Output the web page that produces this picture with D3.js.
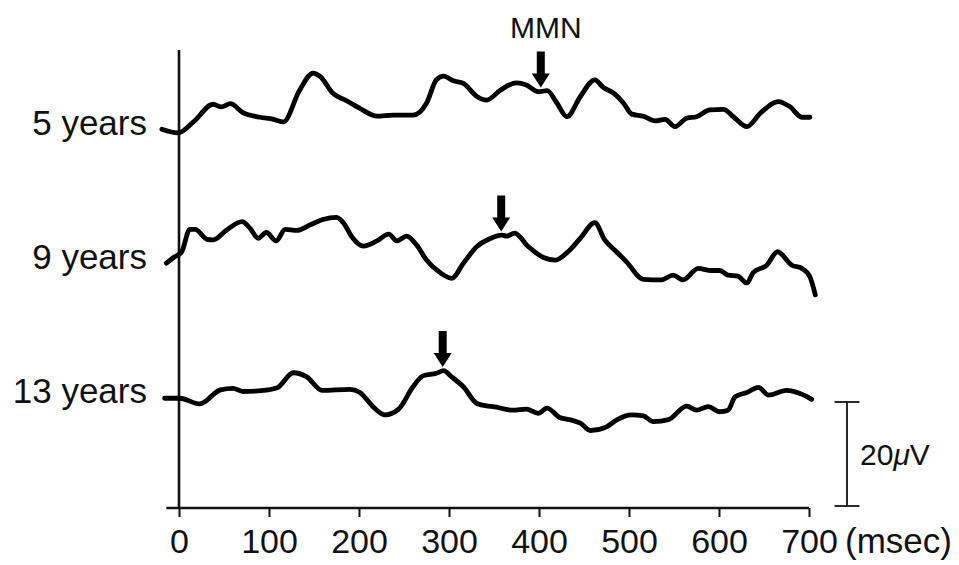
<!DOCTYPE html>
<html>
<head>
<meta charset="utf-8">
<script src="https://cdn.jsdelivr.net/npm/d3@7"></script>
<style>
  html, body { margin: 0; padding: 0; background: #fff; }
  svg { display: block; }
  text { font-family: "Liberation Sans", Arial, sans-serif; fill: #111; }
</style>
</head>
<body>
<svg id="chart" width="959" height="565"></svg>
<script>
// Grand-average difference waveforms (time in ms, amplitude in µV) per age group
const groups = ["5 years", "9 years", "13 years"];

const erp5 = [[-19,-1.0],[-1,-1.7],[16,0.4],[38,3.8],[47,3.3],[57,3.9],[71,2.2],[90,1.3],[105,0.9],[116,0.4],
  [134,6.5],[149,9.8],[157,9.1],[171,5.9],[186,4.5],[201,3.0],[220,1.5],[238,1.7],[260,1.7],[275,4.0],
  [286,8.5],[294,9.2],[305,8.3],[316,7.8],[331,5.3],[342,4.6],[357,6.5],[375,7.9],[386,7.5],[399,6.2],
  [409,6.4],[420,4.0],[431,1.4],[446,5.3],[462,8.5],[471,7.1],[484,5.8],[494,4.0],[503,1.9],[516,1.5],
  [529,0.6],[540,0.9],[551,-0.5],[564,1.1],[575,1.4],[590,2.7],[605,2.8],[616,1.4],[631,-0.5],[646,2.1],
  [666,4.3],[679,3.3],[692,1.3],[701,1.3]];

const erp9 = [[-14,-1.0],[-6,0.1],[3,1.2],[12,5.5],[18,5.5],[31,3.6],[38,3.5],[53,5.4],[70,7.0],[79,5.7],
  [88,3.8],[97,4.9],[108,3.3],[118,5.5],[131,5.3],[146,6.4],[160,7.4],[175,7.8],[183,6.7],[192,4.1],
  [205,2.3],[220,3.3],[233,4.6],[242,3.3],[253,4.2],[264,2.5],[275,-0.4],[290,-2.8],[303,-3.9],[316,-1.0],
  [331,2.2],[344,3.6],[359,4.4],[364,4.2],[373,4.8],[388,2.2],[405,0.1],[418,-0.4],[434,1.5],[446,3.8],
  [462,6.8],[473,3.5],[486,1.2],[497,-0.7],[516,-4.1],[536,-4.2],[549,-3.3],[560,-4.2],[577,-2.0],[590,-2.4],
  [601,-2.4],[610,-3.3],[621,-3.5],[631,-4.8],[638,-2.8],[653,-1.4],[665,1.2],[681,-1.4],[692,-2.0],[701,-3.6],
  [707,-7.1]];

const erp13 = [[-16,-1.2],[1,-1.2],[23,-2.3],[46,0.4],[60,0.7],[71,0.1],[94,0.3],[109,0.8],[127,3.7],[142,2.9],
  [159,0.3],[190,0.5],[201,-0.1],[216,-2.9],[229,-4.4],[244,-3.3],[260,1.0],[271,3.1],[286,3.6],[294,4.1],
  [303,2.9],[316,1.0],[331,-2.2],[344,-2.7],[349,-2.8],[371,-3.5],[386,-3.3],[399,-4.1],[409,-3.1],[423,-4.9],
  [436,-5.4],[446,-6.0],[457,-7.4],[475,-6.7],[486,-5.4],[503,-4.4],[516,-4.6],[527,-5.7],[544,-5.3],[564,-2.7],
  [575,-3.5],[588,-2.8],[601,-3.8],[610,-3.5],[618,-0.9],[631,-0.1],[644,0.9],[655,-0.6],[675,0.3],[690,-0.3],
  [703,-1.4]];

const waves = [erp5, erp9, erp13];

// MMN peak latency marked for each group (ms)
const mmnLatency = [402, 358, 293];

const timeTicks = [0, 100, 200, 300, 400, 500, 600, 700];
const timeUnit = "(msec)";
const scaleBarValue = 20; // µV
const peakLabel = "MMN";

// ---- layout ----
const svg = d3.select("#chart");
const axisY = 508, axisTop = 50;

const x = d3.scaleLinear().domain([0, 700]).range([179, 809]);
const row = d3.scalePoint().domain(groups).range([124, 392]);
const amp = d3.scaleLinear().domain([0, 20]).range([0, -104]); // pixels per µV, up = positive

const line = d3.line()
  .x(d => x(d[0]))
  .curve(d3.curveMonotoneX);

// y axis line
svg.append("line")
  .attr("x1", x(0)).attr("x2", x(0))
  .attr("y1", axisTop).attr("y2", axisY)
  .attr("stroke", "#111").attr("stroke-width", 2.6);

// x axis
const xAxis = d3.axisBottom(x)
  .tickValues(timeTicks)
  .tickSize(9)
  .tickPadding(12)
  .tickFormat(d3.format("d"));

const gx = svg.append("g")
  .attr("transform", `translate(0,${axisY})`)
  .call(xAxis);
gx.select(".domain").remove();
gx.selectAll(".tick line").attr("stroke", "#111").attr("stroke-width", 2);
gx.selectAll(".tick text")
  .attr("font-size", 34)
  .attr("font-family", "Liberation Sans, Arial, sans-serif")
  .attr("fill", "#111");

svg.append("line")
  .attr("x1", x(-14)).attr("x2", x(700))
  .attr("y1", axisY).attr("y2", axisY)
  .attr("stroke", "#111").attr("stroke-width", 2.6);

svg.append("text")
  .attr("x", x(700) + 36)
  .attr("y", axisY + 45)
  .attr("font-size", 35)
  .text(timeUnit);

// waveforms
groups.forEach((g, i) => {
  const base = row(g);
  svg.append("path")
    .datum(waves[i])
    .attr("fill", "none")
    .attr("stroke", "#000")
    .attr("stroke-width", 4.8)
    .attr("stroke-linejoin", "round")
    .attr("stroke-linecap", "round")
    .attr("d", line.y(d => base + amp(d[1])));

  svg.append("text")
    .attr("x", 147)
    .attr("y", base + 11)
    .attr("text-anchor", "end")
    .attr("font-size", 35)
    .text(g);

  // arrow marking the MMN peak, placed just above the waveform
  const t = mmnLatency[i];
  const bis = d3.bisector(d => d[0]).left;
  const k = bis(waves[i], t);
  const a = waves[i][k - 1], b = waves[i][k];
  const v = a[1] + (b[1] - a[1]) * (t - a[0]) / (b[0] - a[0]);
  const tipX = x(t), tipY = base + amp(v) - 4;
  const shaftW = 4, headW = 9, headH = 14, len = 36;
  svg.append("path")
    .attr("fill", "#000")
    .attr("d", `M${tipX - shaftW},${tipY - len} L${tipX + shaftW},${tipY - len}
      L${tipX + shaftW},${tipY - headH} L${tipX + headW},${tipY - headH}
      L${tipX},${tipY} L${tipX - headW},${tipY - headH} L${tipX - shaftW},${tipY - headH} Z`);

  if (i === 0) {
    svg.append("text")
      .attr("x", tipX + 5)
      .attr("y", tipY - len - 13)
      .attr("text-anchor", "middle")
      .attr("font-size", 30)
      .text(peakLabel);
  }
});

// amplitude scale bar
const barX = 847, barBottom = 506;
const barTop = barBottom + amp(scaleBarValue);
const bar = svg.append("g").attr("stroke", "#111").attr("stroke-width", 1.8);
bar.append("line").attr("x1", barX).attr("x2", barX).attr("y1", barTop).attr("y2", barBottom);
bar.append("line").attr("x1", barX - 12.5).attr("x2", barX + 12.5).attr("y1", barTop).attr("y2", barTop);
bar.append("line").attr("x1", barX - 12.5).attr("x2", barX + 12.5).attr("y1", barBottom).attr("y2", barBottom);

const barLabel = svg.append("text")
  .attr("x", barX + 13)
  .attr("y", (barTop + barBottom) / 2 + 11)
  .attr("font-size", 30);
barLabel.append("tspan").text(scaleBarValue);
barLabel.append("tspan").attr("font-style", "italic").text("\u03bc");
barLabel.append("tspan").text("V");
</script>
</body>
</html>
